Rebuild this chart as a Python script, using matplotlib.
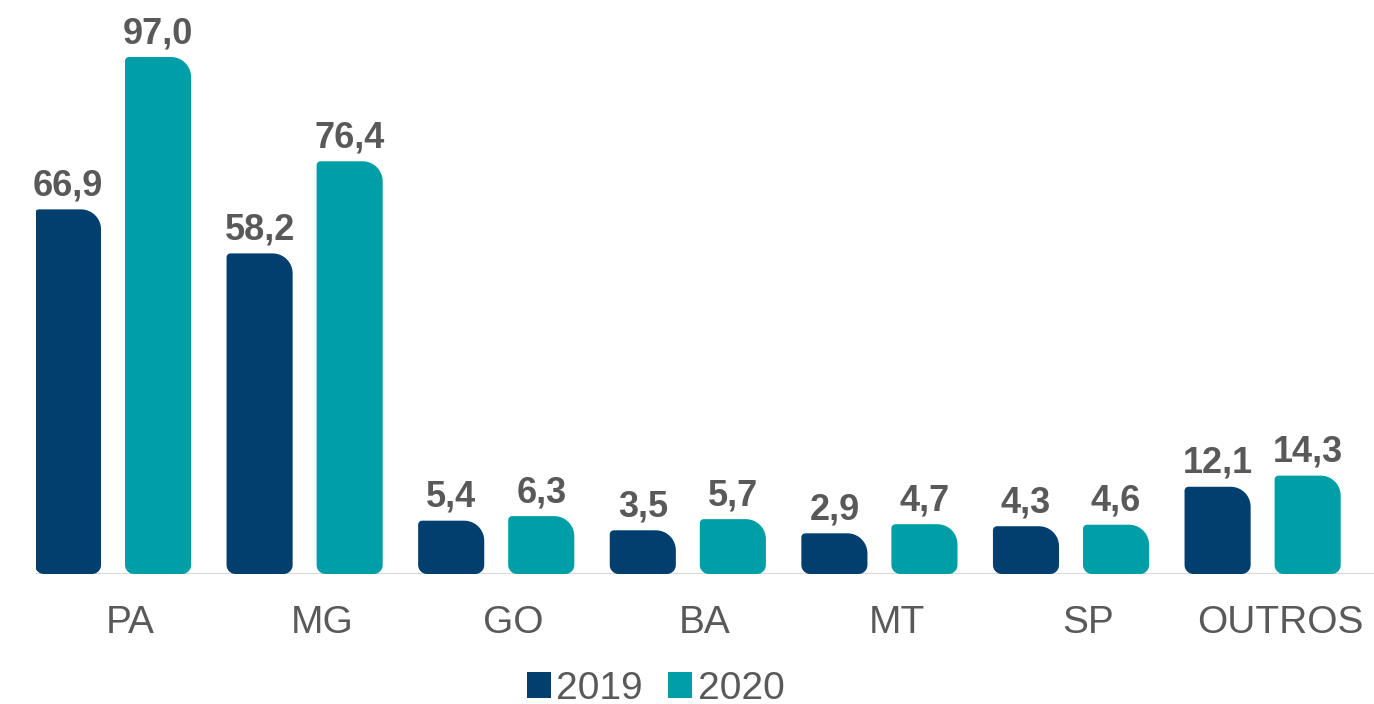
import matplotlib
matplotlib.use("Agg")
import matplotlib.pyplot as plt
import numpy as np
from matplotlib.path import Path
from matplotlib.patches import PathPatch, Patch

# Data
states = ["PA", "MG", "GO", "BA", "MT", "SP", "OUTROS"]
v2019 = [66.9, 58.2, 5.4, 3.5, 2.9, 4.3, 12.1]
v2020 = [97.0, 76.4, 6.3, 5.7, 4.7, 4.6, 14.3]
years = ["2019", "2020"]

navy = "#023f6f"
teal = "#009ea7"
gray = "#595959"
plt.rcParams['font.family'] = ['Liberation Sans', 'DejaVu Sans']

fig = plt.figure(figsize=(13.74, 7.04), dpi=100)
ax = fig.add_axes([36 / 1374, 130 / 704, 1 - 36 / 1374, 1 - 130 / 704])
ax.set_xlim(-0.402, -0.402 + 1338 / 191.6)
ax.set_ylim(0, 113.4)
for s in ax.spines.values():
    s.set_visible(False)
ax.set_yticks([])

x = np.arange(len(states))
off = 0.235
w = 0.345

# pixels per data unit
px_x = 1338 / (ax.get_xlim()[1] - ax.get_xlim()[0])
px_y = 574 / (ax.get_ylim()[1] - ax.get_ylim()[0])
cap = 26 / px_y  # rounded cap added on top of each bar


def corner(cx, cy, r, a0, a1):
    t = np.linspace(np.radians(a0), np.radians(a1), 12)
    return np.column_stack([cx + r / px_x * np.cos(t), cy + r / px_y * np.sin(t)])


def rounded_bar(x0, x1, y0, y1, color, r_tl=4, r_tr=20, r_b=9):
    rx = lambda r: r / px_x
    ry = lambda r: r / px_y
    pts = np.vstack([
        corner(x0 + rx(r_b), y0 + ry(r_b), r_b, 180, 270),
        corner(x1 - rx(r_b), y0 + ry(r_b), r_b, 270, 360),
        corner(x1 - rx(r_tr), y1 - ry(r_tr), r_tr, 0, 90),
        corner(x0 + rx(r_tl), y1 - ry(r_tl), r_tl, 90, 180),
    ])
    pts = np.vstack([pts, pts[:1]])
    codes = [Path.MOVETO] + [Path.LINETO] * (len(pts) - 2) + [Path.CLOSEPOLY]
    ax.add_patch(PathPatch(Path(pts, codes), facecolor=color, edgecolor="none", zorder=3))


for vals, dx, col, yr in [(v2019, -off, navy, years[0]), (v2020, off, teal, years[1])]:
    bars = ax.bar(x + dx, vals, width=w, color=col, label=yr, alpha=0)
    for b, v in zip(bars, vals):
        x0 = b.get_x()
        top = v + cap
        rounded_bar(x0, x0 + b.get_width(), 0, top, col)
        ax.annotate(f"{v:.1f}".replace(".", ","), (x0 + b.get_width() / 2, top),
                    xytext=(0, 10), textcoords="offset points", ha="center", va="baseline",
                    fontsize=26, fontweight="bold", color=gray)

ax.axhline(0, color="#d9d9d9", lw=2.2, zorder=1)

ax.set_xticks(x + 0.09)
ax.set_xticklabels(states, fontsize=28, color=gray)
ax.tick_params(axis="x", length=0, pad=22)

handles = [Patch(facecolor=navy), Patch(facecolor=teal)]
fig.legend(handles, years, loc="center", bbox_to_anchor=(0.477, 0.022), ncol=2, frameon=False,
           fontsize=28, handlelength=0.62, handleheight=0.64, handletextpad=0.13,
           columnspacing=0.67, borderpad=0, labelcolor=gray)

fig.savefig("out.png", dpi=100)
